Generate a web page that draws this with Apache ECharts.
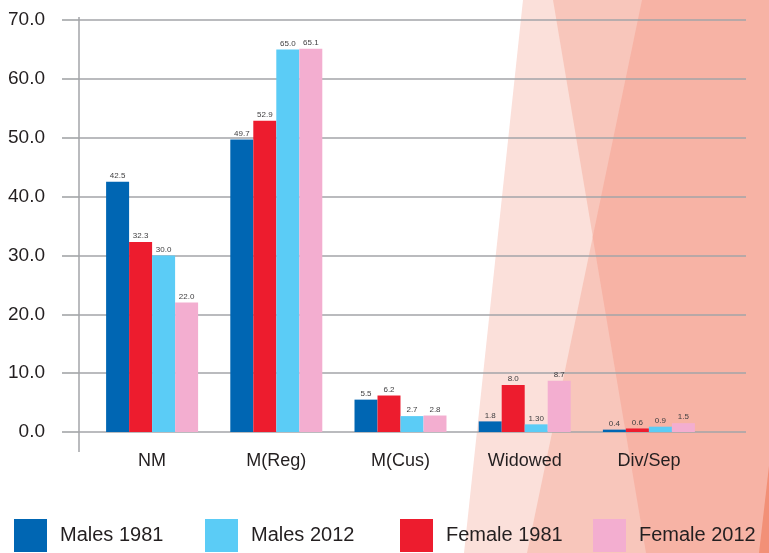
<!DOCTYPE html>
<html><head><meta charset="utf-8">
<script src="https://cdn.jsdelivr.net/npm/echarts@6/dist/echarts.min.js"></script>
<style>html,body{margin:0;padding:0;background:#fff}#c{width:769px;height:553px}</style>
</head><body><div id="c"></div>
<script>
// ---- data ----
const categories = ['NM', 'M(Reg)', 'M(Cus)', 'Widowed', 'Div/Sep'];
const seriesNames = ['Males 1981', 'Female 1981', 'Males 2012', 'Female 2012'];
const legendOrder = ['Males 1981', 'Males 2012', 'Female 1981', 'Female 2012'];
const males1981 = [42.5, 49.7, 5.5, 1.8, 0.4];
const female1981 = [32.3, 52.9, 6.2, 8.0, 0.6];
const males2012 = [30.0, 65.0, 2.7, 1.30, 0.9];
const female2012 = [22.0, 65.1, 2.8, 8.7, 1.5];
// value labels as printed in the source
const males1981Text = ['42.5', '49.7', '5.5', '1.8', '0.4'];
const female1981Text = ['32.3', '52.9', '6.2', '8.0', '0.6'];
const males2012Text = ['30.0', '65.0', '2.7', '1.30', '0.9'];
const female2012Text = ['22.0', '65.1', '2.8', '8.7', '1.5'];
const yMin = 0, yMax = 70, yStep = 10;

// ---- styling ----
const FONT = "'Liberation Sans', Arial, sans-serif";
const colors = {'Males 1981': '#0066B3', 'Female 1981': '#ED1C2E', 'Males 2012': '#5BCCF6', 'Female 2012': '#F3AED0'};
const values = [males1981, female1981, males2012, female2012];
const texts = [males1981Text, female1981Text, males2012Text, female2012Text];
const GRID_TOP = 20, GRID_BOTTOM = 121;
const gridColor = '#A3A5A8';

const chart = echarts.init(document.getElementById('c'), null, {renderer: 'canvas'});

const legendLefts = [14, 205, 400, 593];
const legends = legendOrder.map((name, i) => ({
  data: [name], left: legendLefts[i], top: 519, padding: 0,
  itemWidth: 33, itemHeight: 33, icon: 'rect', selectedMode: false,
  textStyle: {fontFamily: FONT, fontSize: 20, color: '#231F20', padding: [0, 0, 0, 8]}
}));

const option = {
  backgroundColor: '#fff',
  animation: false,
  graphic: [
    {type: 'polygon', z: -10, silent: true, shape: {points: [[523,0],[769,0],[769,553],[464,553]]}, style: {fill: '#FBE0DA'}},
    {type: 'polygon', z: -9, silent: true, shape: {points: [[553,0],[769,0],[769,553],[646,553]]}, style: {fill: '#F8C6BB'}},
    {type: 'polygon', z: -9, silent: true, shape: {points: [[642,0],[769,0],[769,553],[527,553]]}, style: {fill: '#F8C6BB'}},
    {type: 'polygon', z: -8, silent: true, shape: {points: [[642,0],[769,0],[769,553],[646,553],[592.7,237]]}, style: {fill: '#F7B3A5'}},
    {type: 'polygon', z: -7, silent: true, shape: {points: [[772,440],[772,553],[759,553]]}, style: {fill: '#F29077'}},
    {type: 'line', z: 5, silent: true, shape: {x1: 79, y1: 17, x2: 79, y2: 452}, style: {stroke: gridColor, lineWidth: 1.5}}
  ],
  legend: legends,
  grid: [
    {left: 90, right: 58, top: GRID_TOP, bottom: GRID_BOTTOM},
    {left: 79, right: 23, top: GRID_TOP, bottom: GRID_BOTTOM}
  ],
  xAxis: [
    {type: 'category', gridIndex: 0, data: categories,
     axisLine: {show: false}, axisTick: {show: false},
     axisLabel: {fontFamily: FONT, fontSize: 18, color: '#231F20', margin: 20}},
    {type: 'value', gridIndex: 1, show: false, min: 0, max: 1}
  ],
  yAxis: [
    {type: 'value', gridIndex: 0, min: yMin, max: yMax, interval: yStep, show: false},
    {type: 'value', gridIndex: 1, min: yMin, max: yMax, interval: yStep,
     axisLine: {show: false},
     axisTick: {show: true, length: 17, lineStyle: {color: gridColor, width: 1.6}},
     splitLine: {show: true, lineStyle: {color: gridColor, width: 1.6}},
     axisLabel: {fontFamily: FONT, fontSize: 19, color: '#231F20', margin: 34,
                 formatter: v => v.toFixed(1)}}
  ],
  series: seriesNames.map((name, i) => ({
    name, type: 'bar', xAxisIndex: 0, yAxisIndex: 0,
    data: values[i], barWidth: 23, barGap: '0%', z: 3,
    itemStyle: {color: colors[name]},
    label: {show: true, position: 'top', distance: 2, fontFamily: FONT, fontSize: 8, color: '#414042',
            formatter: p => texts[i][p.dataIndex]}
  }))
};
chart.setOption(option);
</script>
</body></html>
